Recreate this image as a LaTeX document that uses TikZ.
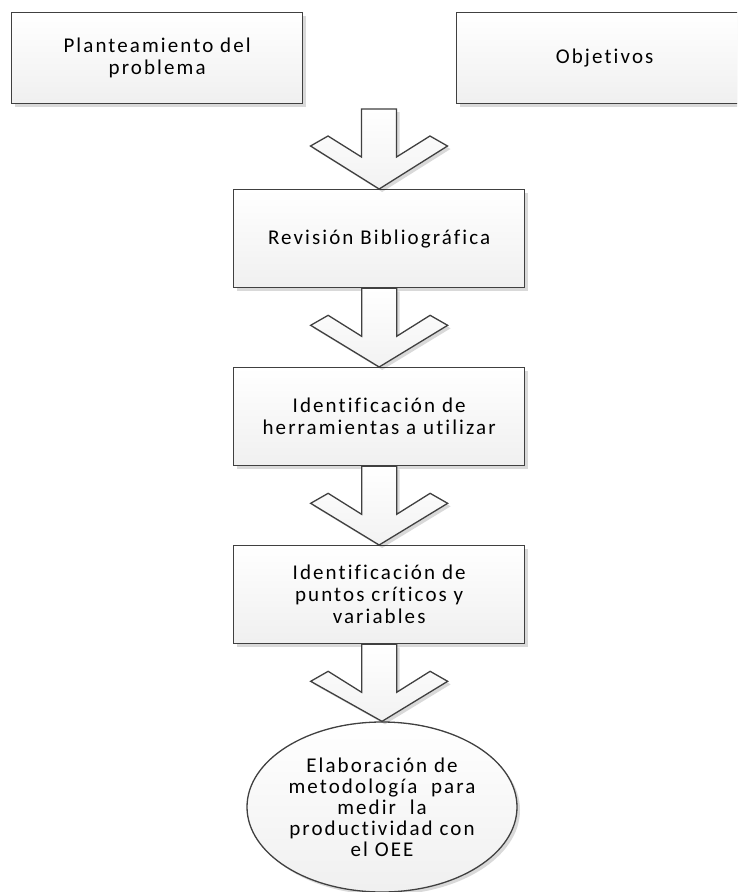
\documentclass[tikz,border=0pt]{standalone}
\usepackage{fontspec}
\setmainfont{Carlito}[LetterSpace=10,Ligatures=NoCommon]
\usetikzlibrary{calc,shadows,shapes.geometric}
\definecolor{edgegray}{HTML}{404040}
\tikzset{
  shapeshadow/.style={drop shadow={shadow xshift=3pt,shadow yshift=-3pt,fill=black,opacity=.15}},
  stepbox/.style={draw=edgegray,line width=1.3pt,top color=white,bottom color=gray!12,
    shapeshadow,minimum width=291pt,minimum height=98pt,inner sep=0pt,anchor=north west,
    align=center,font=\fontsize{21}{22}\selectfont},
  endellipse/.style={draw=edgegray,line width=1.3pt,top color=white,bottom color=gray!12,
    shapeshadow,ellipse,minimum width=270pt,minimum height=170pt,inner sep=0pt,
    align=center,font=\fontsize{21}{21}\selectfont},
  fatarrowst/.style={draw=edgegray,line width=1.3pt,top color=white,bottom color=gray!10,shapeshadow,line join=miter}
}
\newcommand\fatarrow[2]{%
  \draw[fatarrowst] ($(#1)+(-17.5,0)$) -- ($(#1)+(-17.5,48)$) -- ($(#1)+(-51,27)$)
    -- ($(#1)+(-68.5,37)$) -- (#2) -- ($(#1)+(68.5,37)$) -- ($(#1)+(51,27)$)
    -- ($(#1)+(17.5,48)$) -- ($(#1)+(17.5,0)$) -- cycle;}
\begin{document}
\begin{tikzpicture}[x=1pt,y=-1pt]
\clip (0,0) rectangle (737,892);
\fill[white] (0,0) rectangle (737,892);
\node[stepbox,minimum height=91pt] (plan) at (11,12) {Planteamiento del\\problema};
\node[stepbox,minimum width=296pt,minimum height=91pt] (obj) at (456,12) {Objetivos};
\node[stepbox] (rev) at (233,189) {Revisión Bibliográfica};
\node[stepbox] (herr) at (233,367) {Identificación de\\herramientas a utilizar};
\node[stepbox] (pts) at (233,545) {Identificación de\\puntos críticos y\\variables};
\node[endellipse] (elab) at (382,807) {Elaboración de\\metodología\ \ para\\medir\ \ la\\productividad con\\el OEE};
\coordinate (a1) at (379,109);
\fatarrow{a1}{rev.north}
\fatarrow{rev.south}{herr.north}
\fatarrow{herr.south}{pts.north}
\fatarrow{pts.south}{elab.north}
\end{tikzpicture}
\end{document}
